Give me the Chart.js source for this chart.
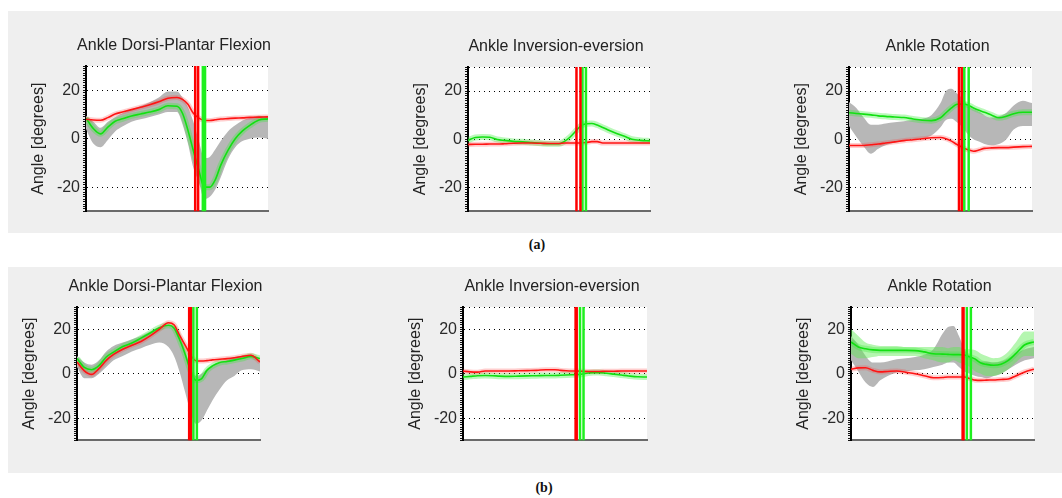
<!DOCTYPE html>
<html>
<head>
<meta charset="utf-8">
<script src="https://cdn.jsdelivr.net/npm/chart.js@4.4.0/dist/chart.umd.min.js"></script>
<style>
    html, body { margin: 0; padding: 0; background: #fff; }
    #page { position: relative; width: 1062px; height: 498px; overflow: hidden; background: #fff; }
    .panel { position: absolute; left: 8px; width: 1054px; background: #efefef; }
    .tag { position: absolute; font: bold 14px "Liberation Serif", "DejaVu Serif", serif; color: #111; transform: translate(-50%, -50%); }
    canvas { position: absolute; }
</style>
</head>
<body>
<div id="page">
    <div class="panel" style="top:11px;height:222px"></div>
    <div class="panel" style="top:267px;height:206px"></div>
    <div class="tag" style="left:537px;top:245px">(a)</div>
    <div class="tag" style="left:544px;top:488px">(b)</div>
</div>
<script>
// gait cycle (%) where every curve is sampled
const PCT = [0, 4, 8, 12, 16, 20, 25, 30, 35, 40, 45, 50, 53, 56, 59, 62, 65, 68, 71, 74, 78, 82, 86, 90, 95, 100];

const TITLES = ['Ankle Dorsi-Plantar Flexion', 'Ankle Inversion-eversion', 'Ankle Rotation'];
const Y_LABELS = [-20, 0, 20];
const GRID_AT = [30, 20, 0, -20];

// (a) dorsi-plantar flexion
const dpfA_red = [8, 7.7, 7.6, 8.7, 10.2, 11, 12, 13, 14, 15.2, 16.7, 17, 16.2, 14.2, 10.5, 8.5, 7.6, 7.5, 7.8, 8.1, 8.3, 8.5, 8.6, 8.8, 8.9, 9];
const dpfA_green = [8.5, 4.2, 2, 4.8, 7.2, 8.2, 9.4, 10.2, 11, 12, 13.6, 13.4, 10.5, 3.5, -5, -13, -20, -20, -17, -11, -4.8, 0, 3.2, 5.5, 7.7, 8.2];
const dpfA_greyLo = [4, -2, -3.5, -0.5, 3, 5, 7, 8, 9, 10, 11, 11, 6, -2, -12, -18, -25, -24, -21, -16, -8.5, -3.5, -1, 0, 0.5, 0];
const dpfA_greyHi = [9.5, 7, 4.5, 7, 9, 10.5, 12, 13.5, 15, 17, 19.5, 19.5, 17, 13, 7, -1, -8, -7.5, -4.5, -1, 3, 5.5, 7.5, 8.5, 9.5, 9];
const dpfA_redEv = [60, 61.6];
const dpfA_greenEv = [64.2, 65.4];

// (a) inversion-eversion
const invA_red = [-2.2, -2.1, -2.1, -2, -2, -1.9, -1.7, -1.6, -1.6, -1.7, -1.8, -1.8, -1.6, -1.6, -1.6, -1.6, -1.4, -1, -1, -1.6, -1.6, -1.6, -1.6, -1.6, -1.6, -1.6];
const invA_green = [-0.5, 0.7, 0.9, 0.8, -0.1, -0.5, -0.9, -1.1, -1.4, -1.7, -1.9, -1.9, -0.9, 0.8, 3.2, 5.5, 6.4, 6.5, 5.9, 4.9, 3.5, 2.3, 1.2, 0, -0.5, -0.7];
const invA_redEv = [59.6, 61.8];
const invA_greenEv = [62.9, 64.8];

// (a) rotation
const rotA_red = [-2.6, -2.6, -2.6, -2.3, -2, -1.6, -1.1, -0.6, -0.2, 0.2, 0.6, 0.7, 0.2, -0.8, -2.2, -3.4, -4.4, -5, -4.5, -3.8, -3.6, -3.5, -3.5, -3.3, -3.1, -3];
const rotA_green = [11, 10.7, 10.4, 10.1, 9.7, 9.5, 9.2, 9, 8.4, 7.9, 7.7, 8.9, 11, 13, 14.5, 14.6, 14.2, 13, 12, 11.2, 10, 8.9, 9.5, 10.6, 11.2, 11.2];
const rotA_greyLo = [5.5, 1, -3, -6, -4, -2.5, -1.5, -0.5, 0, 0.5, 1.5, 5, 8, 8.5, 7, 5, 2, 0, -1, -2, -2.5, -2, 0, 4, 5.5, 5.5];
const rotA_greyHi = [15.5, 13, 9, 6, 6, 6.5, 7, 7.5, 8, 8.5, 10, 15, 20, 21, 19, 17, 14, 12.5, 11.5, 10, 9, 9.5, 11, 14, 16, 15];
const rotA_redEv = [60.1, 61.6];
const rotA_greenEv = [63, 65.4];

// (b) dorsi-plantar flexion
const dpfB_red = [5.3, 1.3, -0.3, 2.3, 6, 8.7, 11, 12.8, 14.5, 17, 20, 22.9, 22, 17.3, 13, 8.5, 5.8, 5.7, 5.9, 6.2, 6.5, 6.8, 7.2, 7.7, 8.3, 5.3];
const dpfB_green = [6.8, 2.8, 1.8, 3.6, 7.5, 9.7, 12.2, 13.8, 16, 18.3, 20.7, 21.8, 20.6, 15.5, 9, 1.5, -3, -2.3, 1.5, 3.5, 5, 5.5, 6.1, 6.8, 7.8, 6.8];
const dpfB_greyLo = [3, -2, -2, 0, 3, 6, 8, 10, 11.5, 13, 14, 12, 8, 1, -8, -17, -22.5, -21, -16.5, -12, -7, -3, -1, 1.5, 2, 1];
const dpfB_greyHi = [8, 5, 4, 6, 10, 12.5, 14, 15.5, 17, 19, 21, 22, 21, 17, 11, 3, -1, 0, 2, 3.5, 5, 6, 7.5, 8, 8.5, 6];
const dpfB_redEv = [61.3, 62.2];
const dpfB_greenEv = [63.6, 65.5];

// (b) inversion-eversion
const invB_red = [1.2, 0.8, 0.7, 1.2, 1.2, 1.2, 1.2, 1.3, 1.4, 1.5, 1.8, 1.8, 1.5, 1.3, 1.2, 1.2, 1.1, 1, 1, 1, 1.1, 1.1, 1.2, 1.2, 1.2, 1.2];
const invB_green = [-1.5, -1.2, -0.9, -0.8, -0.9, -1.1, -1.2, -1.1, -1, -0.9, -0.8, -0.8, -0.7, -0.6, -0.5, -0.4, -0.1, 0.3, 0.5, 0.5, 0.2, -0.2, -0.6, -1, -1.4, -1.5];
const invB_redEv = [61.2, 61.8];
const invB_greenEv = [63.6, 65.5];

// (b) rotation
const rotB_red = [2, 2.6, 2.7, 1.5, 0.8, 1, 1.2, 0.6, 0, -0.9, -1.8, -1.7, -1.5, -1.5, -1.5, -1.5, -2.2, -2.9, -3, -2.9, -2.8, -2.6, -2.4, -1, 0.8, 2];
const rotB_green = [14.3, 12, 11.2, 10.7, 10.5, 10.5, 10.5, 10.5, 10.4, 9.8, 9, 8.8, 8.7, 8.6, 8.6, 8.4, 7.5, 6.5, 4.8, 4.2, 3.8, 4.3, 6, 9, 13, 14.3];
const rotB_greenLo = [9, 7, 7, 7.5, 8, 8, 8, 8, 8, 7, 6, 5, 5, 6, 5, 4, 3, 1, 0, -1, -1, 0, 2, 5, 8, 8];
const rotB_greenHi = [20, 17, 14, 13, 12.5, 12.5, 12.5, 12, 12, 12, 12, 12, 11.5, 12, 12, 11, 11, 10.5, 9, 8, 7, 7.5, 10, 14, 19, 19];
const rotB_greyLo = [6, 1, -4, -6, -3, -1, 0.5, 1, 1.5, 2, 3, 4, 5, 5, 3, 1, 0, -1, -1.5, -2, -1, 0, 2, 4, 6, 7];
const rotB_greyHi = [17, 13, 8, 5, 5, 5.5, 6.5, 7, 7.5, 8.5, 11, 18, 21, 21.5, 17, 11, 8, 6, 5.5, 5.5, 5, 5.5, 7, 9, 11, 12];
const rotB_redEv = [61, 61.5];
const rotB_greenEv = [63.3, 65.5];

// plot boxes [left, top, width, height] in page pixels
const panels = [
    { box: [86, 66, 182, 146], title: TITLES[0], red: dpfA_red, green: dpfA_green, greyLo: dpfA_greyLo, greyHi: dpfA_greyHi, redEv: dpfA_redEv, greenEv: dpfA_greenEv },
    { box: [468, 67, 182, 145], title: TITLES[1], red: invA_red, green: invA_green, redEv: invA_redEv, greenEv: invA_greenEv },
    { box: [849, 67, 183, 145], title: TITLES[2], red: rotA_red, green: rotA_green, greyLo: rotA_greyLo, greyHi: rotA_greyHi, redEv: rotA_redEv, greenEv: rotA_greenEv },
    { box: [77, 307, 183, 134], title: TITLES[0], red: dpfB_red, green: dpfB_green, greyLo: dpfB_greyLo, greyHi: dpfB_greyHi, redEv: dpfB_redEv, greenEv: dpfB_greenEv },
    { box: [463, 307, 184, 134], title: TITLES[1], red: invB_red, green: invB_green, redEv: invB_redEv, greenEv: invB_greenEv },
    { box: [851, 307, 183, 134], title: TITLES[2], red: rotB_red, green: rotB_green, greenLo: rotB_greenLo, greenHi: rotB_greenHi, greyLo: rotB_greyLo, greyHi: rotB_greyHi, redEv: rotB_redEv, greenEv: rotB_greenEv }
];

const LEFT = 72, RIGHT = 66, TOP = 36, BOTTOM = 12;
const FONT = '"Liberation Sans", Arial, sans-serif';

const plotBg = {
    id: 'plotBg',
    beforeDraw(chart) {
        const { ctx, chartArea: a } = chart;
        ctx.save();
        ctx.fillStyle = '#ffffff';
        ctx.fillRect(a.left, a.top, a.width, a.height);
        ctx.restore();
    }
};

const xy = arr => PCT.map((x, i) => ({ x: x, y: arr[i] }));

function curve(arr, color, width, order) {
    return { data: xy(arr), borderColor: color, borderWidth: width, pointRadius: 0, fill: false, cubicInterpolationMode: 'monotone', order: order };
}

function band(hi, lo, color, order) {
    return [
        { data: xy(hi), borderWidth: 0, pointRadius: 0, backgroundColor: color, fill: '+1', cubicInterpolationMode: 'monotone', order: order },
        { data: xy(lo), borderWidth: 0, pointRadius: 0, fill: false, cubicInterpolationMode: 'monotone', order: order }
    ];
}

function marker(x, color) {
    return { data: [{ x: x, y: -30 }, { x: x, y: 30 }], borderColor: color, borderWidth: 2.5, pointRadius: 0, fill: false, order: 0 };
}

const page = document.getElementById('page');

panels.forEach(p => {
    const [l, t, w, h] = p.box;
    const canvas = document.createElement('canvas');
    canvas.width = w + LEFT + RIGHT;
    canvas.height = h + TOP + BOTTOM;
    canvas.style.left = (l - LEFT) + 'px';
    canvas.style.top = (t - TOP) + 'px';
    page.appendChild(canvas);

    let datasets = [];
    if (p.greyLo)
        datasets = datasets.concat(band(p.greyHi, p.greyLo, '#b7b7b7', 5));
    if (p.greenLo)
        datasets = datasets.concat(band(p.greenHi, p.greenLo, 'rgba(90, 235, 80, 0.45)', 4));
    datasets.push(curve(p.red, 'rgba(255, 60, 60, 0.25)', 5, 3));
    datasets.push(curve(p.green, 'rgba(60, 235, 60, 0.35)', 6, 3));
    datasets.push(curve(p.red, '#ff1414', 1.6, 1));
    datasets.push(curve(p.green, '#12e012', 1.6, 1));
    p.redEv.forEach(x => datasets.push(marker(x, '#ff0000')));
    p.greenEv.forEach(x => datasets.push(marker(x, '#1ff01f')));

    new Chart(canvas, {
        type: 'line',
        data: { datasets: datasets },
        plugins: [plotBg],
        options: {
            responsive: false,
            animation: false,
            layout: { padding: 0 },
            plugins: {
                legend: { display: false },
                tooltip: { enabled: false },
                title: {
                    display: true,
                    text: p.title,
                    color: '#222',
                    font: { family: FONT, size: 16, weight: 'normal' },
                    padding: { top: 6, bottom: 10.8 }
                }
            },
            scales: {
                x: {
                    type: 'linear',
                    min: 0,
                    max: 100,
                    grid: { display: false },
                    ticks: { display: false },
                    border: { color: '#6a6a6a', width: 2 },
                    afterFit: s => { s.height = BOTTOM; }
                },
                y: {
                    min: -30,
                    max: 30,
                    afterFit: s => { s.width = LEFT; },
                    ticks: {
                        stepSize: 1,
                        autoSkip: false,
                        padding: 3,
                        color: '#2a2a2a',
                        font: { family: FONT, size: 16 },
                        callback: v => Y_LABELS.includes(v) ? String(v) : ''
                    },
                    grid: {
                        color: c => GRID_AT.includes(c.tick.value) ? '#000' : 'transparent',
                        tickColor: '#111',
                        tickLength: 3,
                        lineWidth: 1
                    },
                    border: { color: '#000', width: 2, dash: [1, 4] },
                    title: {
                        display: true,
                        text: 'Angle [degrees]',
                        color: '#222',
                        font: { family: FONT, size: 16 },
                        padding: { top: 15, bottom: 0 }
                    }
                },
                // empty right-hand box that keeps space beside the plot
                spare: {
                    position: 'right',
                    grid: { display: false },
                    ticks: { display: false },
                    border: { display: false },
                    afterFit: s => { s.width = RIGHT; }
                }
            }
        }
    });
});
</script>
</body>
</html>
